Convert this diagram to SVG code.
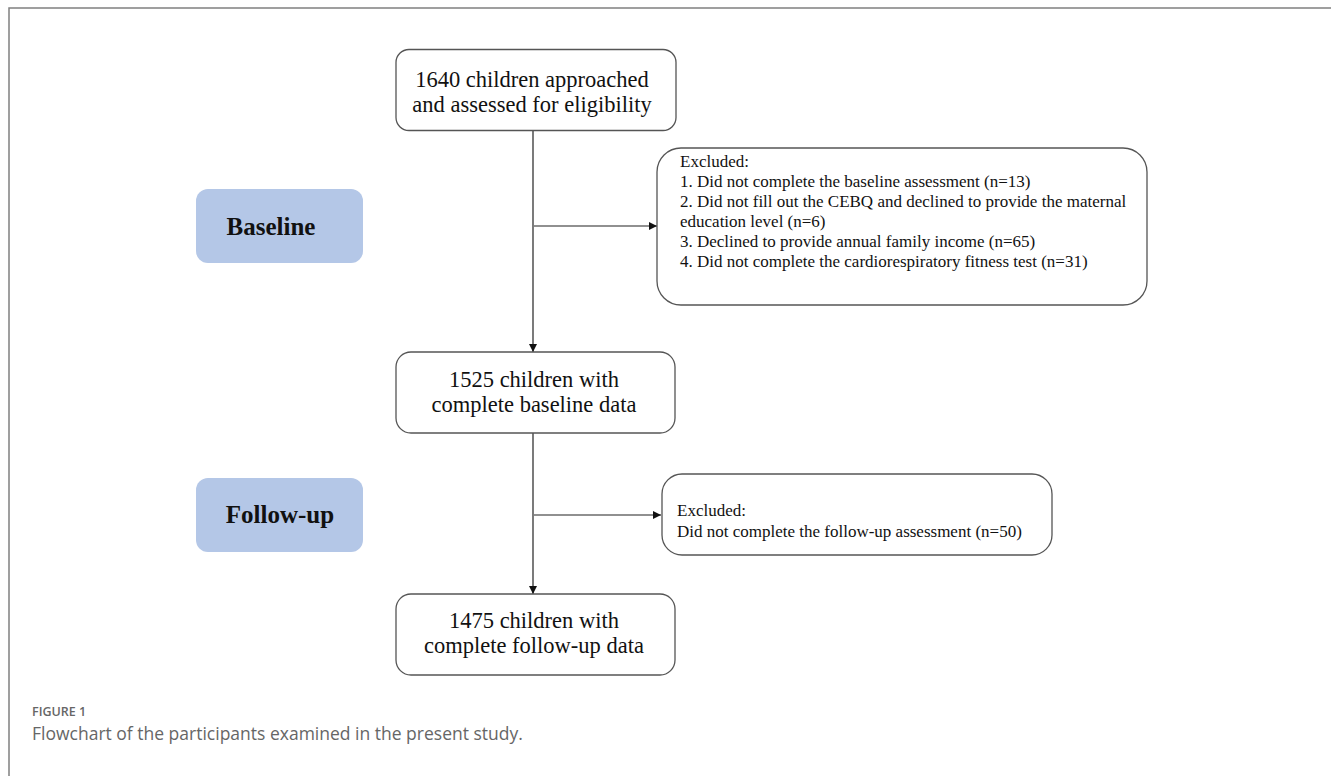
<svg xmlns="http://www.w3.org/2000/svg" width="1331" height="776" viewBox="0 0 1331 776">
<style>
.box{fill:#fff;stroke:#555;stroke-width:1.3}
.phase{fill:#b4c7e7;stroke:none}
.t{font-family:"Liberation Serif","Times New Roman",serif;fill:#111}
.big{font-size:22.5px;text-anchor:middle}
.sm{font-size:17px}
.ph{font-size:25px;font-weight:bold;text-anchor:middle}
.ln{stroke:#222;stroke-width:1.2;fill:none}
.cap{font-family:"Open Sans","Noto Sans",sans-serif;fill:#666}
</style>
<defs>
<marker id="ah" viewBox="0 0 10 10" refX="10" refY="5" markerWidth="8" markerHeight="8" markerUnits="userSpaceOnUse" orient="auto">
<path d="M0,0 L10,5 L0,10 z" fill="#111"/>
</marker>
</defs>
<rect x="9" y="8" width="1400" height="900" fill="none" stroke="#808080" stroke-width="1.5"/>
<g id="connectors">
<line class="ln" x1="533" y1="131" x2="533" y2="352" marker-end="url(#ah)"/>
<line class="ln" x1="534" y1="226" x2="657" y2="226" marker-end="url(#ah)"/>
<line class="ln" x1="533" y1="433" x2="533" y2="594" marker-end="url(#ah)"/>
<line class="ln" x1="534" y1="515" x2="661" y2="515" marker-end="url(#ah)"/>
</g>
<g id="phase-baseline">
<rect class="phase" x="196" y="189" width="167" height="74" rx="12"/>
<text class="t ph" x="271" y="235">Baseline</text>
</g>
<g id="phase-followup">
<rect class="phase" x="196" y="478" width="167" height="74" rx="12"/>
<text class="t ph" x="280" y="523">Follow-up</text>
</g>
<g id="node-assessed">
<rect class="box" x="396" y="49.5" width="280" height="81" rx="13"/>
<text class="t big" x="532" y="87">1640 children approached</text>
<text class="t big" x="532" y="112">and assessed for eligibility</text>
</g>
<g id="node-excluded1">
<rect class="box" x="657" y="148" width="490" height="157" rx="24"/>
<text class="t sm" x="680" y="167">Excluded:</text>
<text class="t sm" x="680" y="187">1. Did not complete the baseline assessment (n=13)</text>
<text class="t sm" x="680" y="207">2. Did not fill  out the CEBQ and declined to provide the maternal</text>
<text class="t sm" x="680" y="227">education level  (n=6)</text>
<text class="t sm" x="680" y="247">3. Declined to provide annual family income (n=65)</text>
<text class="t sm" x="680" y="267">4. Did not complete the cardiorespiratory fitness test (n=31)</text>
</g>
<g id="node-baseline-data">
<rect class="box" x="396" y="352" width="279" height="81" rx="15"/>
<text class="t big" x="534" y="387">1525 children with</text>
<text class="t big" x="534" y="412">complete baseline data</text>
</g>
<g id="node-excluded2">
<rect class="box" x="662" y="474" width="390" height="81" rx="20"/>
<text class="t sm" x="677" y="516">Excluded:</text>
<text class="t sm" x="677" y="537">Did not complete the follow-up assessment (n=50)</text>
</g>
<g id="node-followup-data">
<rect class="box" x="396" y="594" width="279" height="81" rx="15"/>
<text class="t big" x="534" y="628">1475 children with</text>
<text class="t big" x="534" y="653">complete follow-up data</text>
</g>
<g id="caption">
<text class="cap" x="32" y="716" font-size="12.5" font-weight="600" fill="#555">FIGURE 1</text>
<text class="cap" x="32" y="740" font-size="17.5">Flowchart of the participants examined in the present study.</text>
</g>
</svg>
